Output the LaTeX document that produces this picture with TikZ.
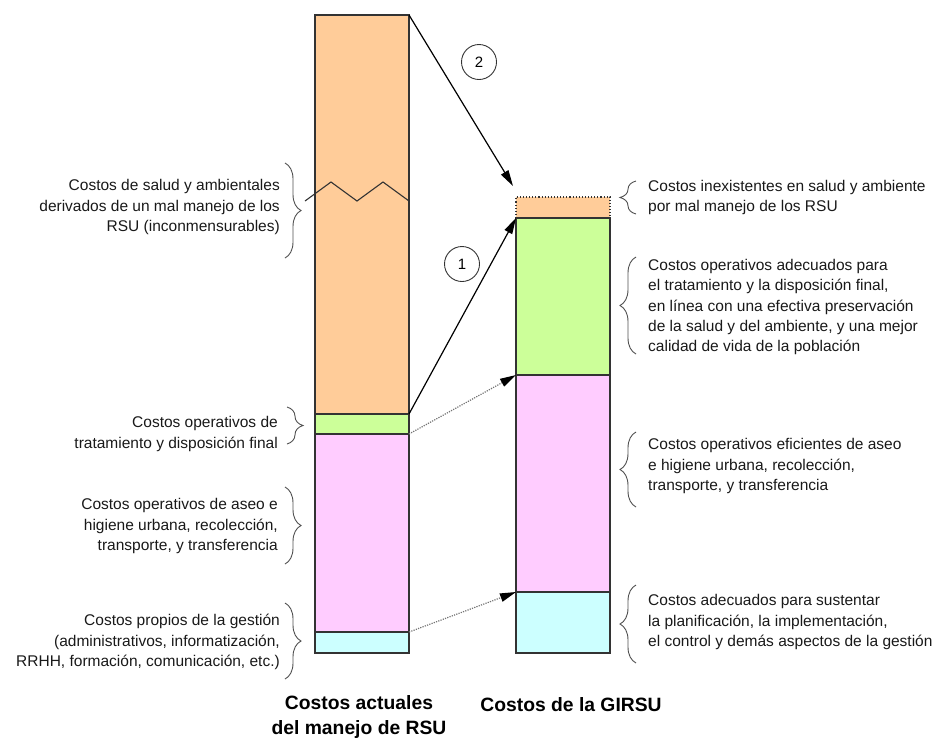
\documentclass[tikz,border=0pt]{standalone}
\usepackage{fontspec}
\setmainfont{Liberation Sans}
\usetikzlibrary{arrows.meta,decorations.pathreplacing}
\definecolor{cOrange}{HTML}{FFCC99}
\definecolor{cGreen}{HTML}{CCFF99}
\definecolor{cPink}{HTML}{FFCCFF}
\definecolor{cCyan}{HTML}{CCFFFF}
\definecolor{cLine}{HTML}{333333}
\definecolor{cBrace}{HTML}{505050}
\begin{document}
\begin{tikzpicture}[x=1pt,y=-1pt,
  seg/.style={draw=cLine,line width=1.1pt,minimum width=94pt,inner sep=0pt,outer sep=0pt},
  txt/.style={font=\fontsize{15.5}{20.3}\selectfont,inner sep=0pt,text=black!90},
  ttl/.style={font=\fontsize{19.3}{25}\selectfont\bfseries,inner sep=0pt,align=center},
  num/.style={draw=cLine,circle,line width=0.9pt,minimum size=35pt,inner sep=0pt,font=\fontsize{15}{18}\selectfont},
  bigarrow/.style={line width=1.2pt,-{Triangle[length=16pt,width=8.5pt]}},
  dotarrow/.style={draw=black!55,line width=1.2pt,dash pattern=on 1.2pt off 1.2pt,-{Triangle[length=16pt,width=8.5pt,fill=black,color=black]}},
  lbrace/.style={draw=cBrace,line width=0.9pt,decorate,decoration={brace,amplitude=16pt}},
]
\useasboundingbox (0,0) rectangle (936,740);

% left bar
\node[seg,fill=cOrange,minimum height=399pt] (lo) at (362,214.5) {};
\node[seg,fill=cGreen,minimum height=20pt] (lg) at (362,424) {};
\node[seg,fill=cPink,minimum height=198pt] (lp) at (362,533) {};
\node[seg,fill=cCyan,minimum height=21pt] (lc) at (362,642.5) {};
% zigzag
\draw[draw=cLine,line width=1.1pt] (305,201) -- (331,182) -- (357,201) -- (383,182) -- (409,201);

% right bar
\node[seg,fill=cOrange,draw=none,minimum height=21pt] (ro) at (563,207.5) {};
\draw[draw=cLine,line width=1.1pt,dotted] (ro.south west) -- (ro.north west) -- (ro.north east) -- (ro.south east);
\node[seg,fill=cGreen,minimum height=157pt] (rg) at (563,296.5) {};
\node[seg,fill=cPink,minimum height=217pt] (rp) at (563,483.5) {};
\node[seg,fill=cCyan,minimum height=61pt] (rc) at (563,622.5) {};

% arrows
\coordinate (t2) at (513,186);
\draw[bigarrow] (lo.north east) -- (t2);
\draw[bigarrow] (lo.south east) -- (rg.north west);
\draw[dotarrow] (lg.south east) -- (rp.north west);
\draw[dotarrow] (lp.south east) -- (rc.north west);
\node[num] (n2) at (479,62) {2};
\node[num] (n1) at (462,264) {1};

% left braces
\draw[lbrace] (285,163) -- (285,258);
\draw[lbrace] (287,407) -- (287,444);
\draw[lbrace] (285,487) -- (285,564);
\draw[lbrace] (285,603) -- (285,679);
% right braces
\draw[lbrace] (636,214) -- (636,181);
\draw[lbrace] (636,354) -- (636,257);
\draw[lbrace] (636,507) -- (636,432);
\draw[lbrace] (636,663) -- (636,585);

% left texts
\node[txt,anchor=east,align=right] (tl1) at (280,207) {Costos de salud y ambientales\\derivados de un mal manejo de los\\RSU (inconmensurables)};
\node[txt,anchor=east,align=right] (tl2) at (278,434) {Costos operativos de\\tratamiento y disposición final};
\node[txt,anchor=east,align=right] (tl3) at (278,526) {Costos operativos de aseo e\\higiene urbana, recolección,\\transporte, y transferencia};
\node[txt,anchor=east,align=right] (tl4) at (280,642) {Costos propios de la gestión\\(administrativos, informatización,\\RRHH, formación, comunicación, etc.)};

% right texts
\node[txt,anchor=west,align=left] (tr1) at (648,197.5) {Costos inexistentes en salud y ambiente\\por mal manejo de los RSU};
\node[txt,anchor=west,align=left] (tr2) at (648,307) {Costos operativos adecuados para\\el tratamiento y la disposición final,\\en línea con una efectiva preservación\\de la salud y del ambiente, y una mejor\\calidad de vida de la población};
\node[txt,anchor=west,align=left] (tr3) at (648,466) {Costos operativos eficientes de aseo\\e higiene urbana, recolección,\\transporte, y transferencia};
\node[txt,anchor=west,align=left] (tr4) at (648,622) {Costos adecuados para sustentar\\la planificación, la implementación,\\el control y demás aspectos de la gestión};

% titles
\node[ttl] (h1) at (359,717) {Costos actuales\\del manejo de RSU};
\node[ttl] (h2) at (571,705) {Costos de la GIRSU};
\end{tikzpicture}
\end{document}
